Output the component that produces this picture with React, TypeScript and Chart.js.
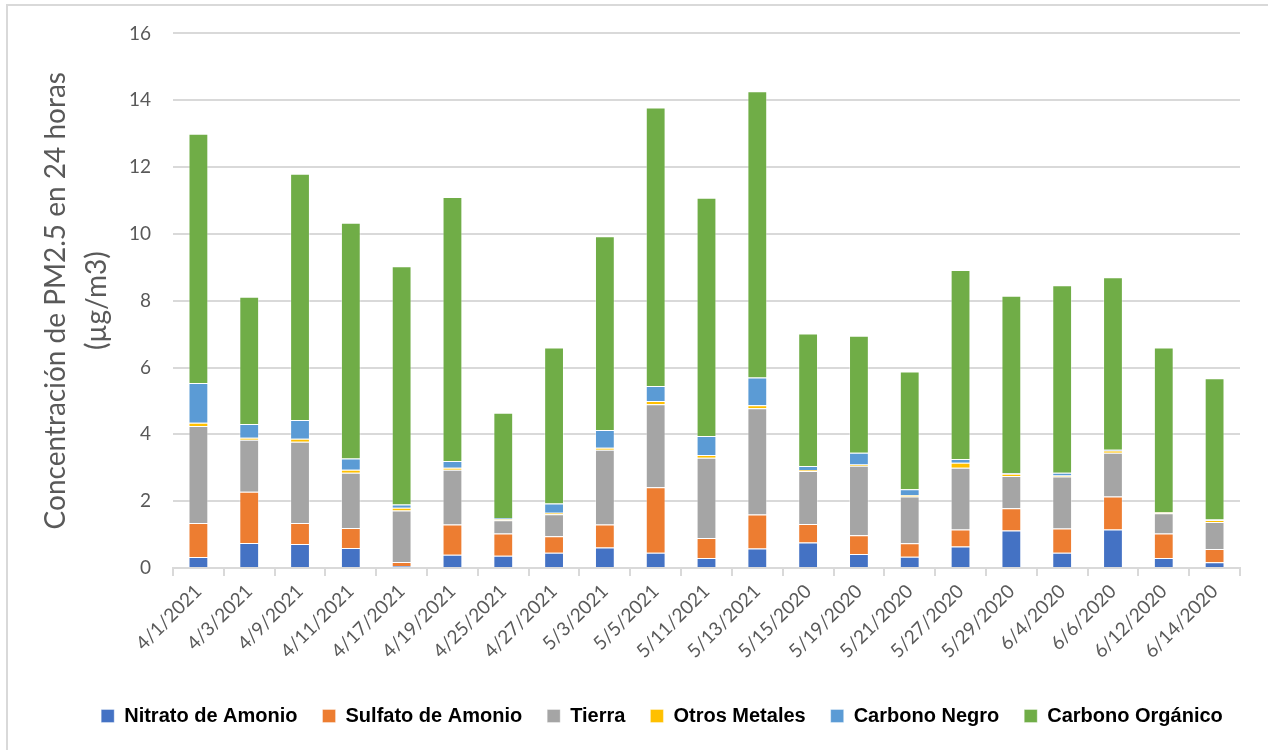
import React, { useEffect, useRef } from "react";
import { Chart, registerables } from "chart.js";

Chart.register(...registerables);

const categories = [
  "4/1/2021", "4/3/2021", "4/9/2021", "4/11/2021", "4/17/2021", "4/19/2021", "4/25/2021",
  "4/27/2021", "5/3/2021", "5/5/2021", "5/11/2021", "5/13/2021", "5/15/2020", "5/19/2020",
  "5/21/2020", "5/27/2020", "5/29/2020", "6/4/2020", "6/6/2020", "6/12/2020", "6/14/2020",
];

const nitratoAmonio = [0.33, 0.75, 0.72, 0.60, 0.06, 0.40, 0.37, 0.46, 0.61, 0.46, 0.30, 0.58, 0.76, 0.42, 0.34, 0.64, 1.12, 0.46, 1.15, 0.30, 0.17];
const sulfatoAmonio = [1.02, 1.53, 0.63, 0.60, 0.12, 0.90, 0.66, 0.49, 0.69, 1.96, 0.60, 1.02, 0.56, 0.56, 0.40, 0.51, 0.67, 0.72, 0.99, 0.73, 0.40];
const tierra = [2.90, 1.56, 2.43, 1.65, 1.54, 1.64, 0.40, 0.66, 2.24, 2.48, 2.40, 3.18, 1.58, 2.08, 1.40, 1.85, 0.96, 1.56, 1.31, 0.61, 0.81];
const otrosMetales = [0.10, 0.06, 0.09, 0.09, 0.08, 0.06, 0.03, 0.04, 0.06, 0.10, 0.08, 0.09, 0.03, 0.04, 0.04, 0.15, 0.07, 0.03, 0.07, 0.02, 0.05];
const carbonoNegro = [1.19, 0.41, 0.56, 0.34, 0.10, 0.20, 0.04, 0.28, 0.53, 0.45, 0.57, 0.83, 0.12, 0.35, 0.18, 0.11, 0.02, 0.08, 0.02, 0.01, 0.02];
const carbonoOrganico = [7.46, 3.81, 7.37, 7.05, 7.13, 7.90, 3.15, 4.67, 5.80, 8.33, 7.13, 8.57, 3.97, 3.50, 3.52, 5.66, 5.31, 5.61, 5.16, 4.93, 4.23];

const yTitleLines = ["Concentración de PM2.5 en 24 horas", "(µg/m3)"];

const series = [
  { label: "Nitrato de Amonio", data: nitratoAmonio, color: "#4472C4" },
  { label: "Sulfato de Amonio", data: sulfatoAmonio, color: "#ED7D31" },
  { label: "Tierra", data: tierra, color: "#A5A5A5" },
  { label: "Otros Metales", data: otrosMetales, color: "#FFC000" },
  { label: "Carbono Negro", data: carbonoNegro, color: "#5B9BD5" },
  { label: "Carbono Orgánico", data: carbonoOrganico, color: "#70AD47" },
];

const legendShift = {
  id: "legendShift",
  afterLayout(chart: any) {
    if (chart.legend) {
      chart.legend.left += 42;
      chart.legend.right += 42;
    }
  },
};

export default function App() {
  const ref = useRef<HTMLCanvasElement | null>(null);

  useEffect(() => {
    if (!ref.current) return;
    const chart = new Chart(ref.current, {
      type: "bar",
      data: {
        labels: categories,
        datasets: series.map((s) => ({
          label: s.label,
          data: s.data,
          backgroundColor: s.color,
          borderColor: "rgba(255,255,255,0.35)",
          borderWidth: 1,
          barPercentage: 0.39,
          categoryPercentage: 1,
        })),
      },
      plugins: [legendShift],
      options: {
        responsive: false,
        animation: false,
        layout: { padding: { left: 0, right: 28, top: 24, bottom: 14 } },
        plugins: {
          tooltip: { enabled: false },
          legend: {
            position: "bottom",
            labels: {
              boxWidth: 13,
              boxHeight: 13,
              padding: 25,
              color: "#000000",
              font: { family: "'Liberation Sans', Arial, sans-serif", size: 20, weight: "bold" },
            },
          },
        },
        scales: {
          x: {
            stacked: true,
            afterFit: (scale: any) => {
              scale.height = 113;
            },
            grid: {
              offset: true,
              drawOnChartArea: false,
              drawTicks: true,
              tickLength: 8,
              color: "#d9d9d9",
              lineWidth: 2,
            },
            border: { display: true, color: "#d9d9d9", width: 2 },
            ticks: {
              autoSkip: false,
              minRotation: 45,
              maxRotation: 45,
              color: "#595959",
              padding: 4,
              font: { family: "Lato, 'Open Sans', sans-serif", size: 19 },
            },
          },
          y: {
            stacked: true,
            min: 0,
            max: 16,
            afterFit: (scale: any) => {
              scale.width = 173;
            },
            ticks: {
              stepSize: 2,
              color: "#595959",
              padding: 22,
              font: { family: "Lato, 'Open Sans', sans-serif", size: 19 },
            },
            grid: { color: "#d9d9d9", lineWidth: 2, drawTicks: false },
            border: { display: false },
            title: {
              display: true,
              text: yTitleLines,
              color: "#595959",
              padding: { top: 36, bottom: 0 },
              font: { family: "Lato, 'Open Sans', sans-serif", size: 28, lineHeight: 1.45 },
            },
          },
        },
      },
    });
    return () => chart.destroy();
  }, []);

  return (
    <div style={{ position: "relative", width: 1268, height: 750, overflow: "hidden", background: "#fff" }}>
      <style>{`body{margin:0;overflow:hidden}`}</style>
      <div
        style={{
          position: "absolute",
          left: 6,
          top: 4,
          width: 1400,
          height: 900,
          borderLeft: "2px solid #d9d9d9",
          borderTop: "2px solid #d9d9d9",
          boxSizing: "border-box",
        }}
      />
      <canvas ref={ref} width={1268} height={750} style={{ position: "absolute", left: 0, top: 0, display: "block" }} />
    </div>
  );
}
